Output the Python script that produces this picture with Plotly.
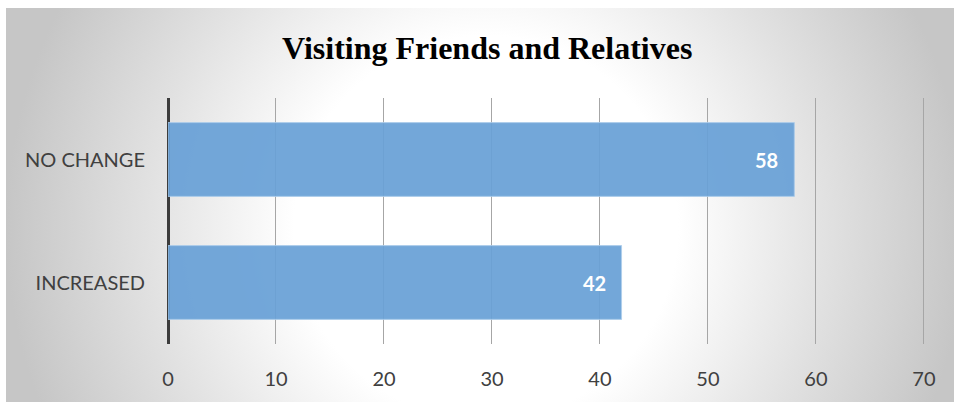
import base64
import plotly.graph_objects as go

# Survey responses
categories = ["INCREASED", "NO CHANGE"]
values = [42, 58]
x_ticks = [0, 10, 20, 30, 40, 50, 60, 70]
title_text = "Visiting Friends and Relatives"

W, H = 954, 403
L, R, T, B = 168, 29, 98, 59
plot_w = W - L - R
plot_h = H - T - B

# Soft radial backdrop, white in the middle fading to grey at the edges
svg = (
    '<svg xmlns="http://www.w3.org/2000/svg" width="948" height="394" '
    'preserveAspectRatio="none" viewBox="0 0 948 394">'
    '<defs><radialGradient id="g" cx="480" cy="220" r="480" '
    'gradientUnits="userSpaceOnUse">'
    '<stop offset="0" stop-color="#ffffff"/>'
    '<stop offset="0.40" stop-color="#ffffff"/>'
    '<stop offset="0.7" stop-color="#e2e2e2"/>'
    '<stop offset="1" stop-color="#c6c6c6"/>'
    '</radialGradient></defs>'
    '<rect x="0" y="0" width="948" height="394" fill="url(#g)"/></svg>'
)
bg_uri = "data:image/svg+xml;base64," + base64.b64encode(svg.encode()).decode()

fig = go.Figure()
fig.add_trace(go.Bar(
    x=values,
    y=categories,
    orientation="h",
    width=0.6,
    marker=dict(color="#69a1d7", opacity=0.93,
                line=dict(color="#a9cbea", width=1)),
    hoverinfo="x+y",
))

for cat, v in zip(categories, values):
    fig.add_annotation(
        x=v, y=cat, text=f"<b>{v}</b>", showarrow=False,
        xanchor="right", yanchor="middle", xshift=-14,
        font=dict(family="Lato", size=20, color="white"),
    )

fig.add_annotation(
    xref="paper", yref="paper", x=(487 - L) / plot_w, y=(H - B - 48) / plot_h,
    text=f"<b>{title_text}</b>", showarrow=False,
    xanchor="center", yanchor="middle",
    font=dict(family="Liberation Serif", size=32, color="black"),
)

fig.add_layout_image(
    source=bg_uri, xref="paper", yref="paper",
    x=(6 - L) / plot_w, y=(H - B - 8) / plot_h,
    sizex=948 / plot_w, sizey=394 / plot_h,
    xanchor="left", yanchor="top", sizing="stretch", layer="below",
)

fig.update_layout(
    width=W, height=H,
    margin=dict(l=L, r=R, t=T, b=B),
    paper_bgcolor="white",
    plot_bgcolor="rgba(0,0,0,0)",
    showlegend=False,
    bargap=0.4,
    xaxis=dict(
        range=[0, 70.1], tickvals=x_ticks, showgrid=True,
        gridcolor="#a6a6a6", gridwidth=1,
        zeroline=True, zerolinecolor="#3c3c3c", zerolinewidth=3,
        showline=False, ticks="", ticklabelstandoff=21,
        tickfont=dict(family="Lato", size=20, color="#404040"),
        fixedrange=True,
    ),
    yaxis=dict(
        categoryorder="array", categoryarray=categories,
        range=[-0.5, 1.5], showgrid=False, zeroline=False,
        ticks="", ticklabelstandoff=22,
        tickfont=dict(family="Lato", size=20, color="#404040"),
        fixedrange=True,
    ),
)

fig.write_html("out.html")
